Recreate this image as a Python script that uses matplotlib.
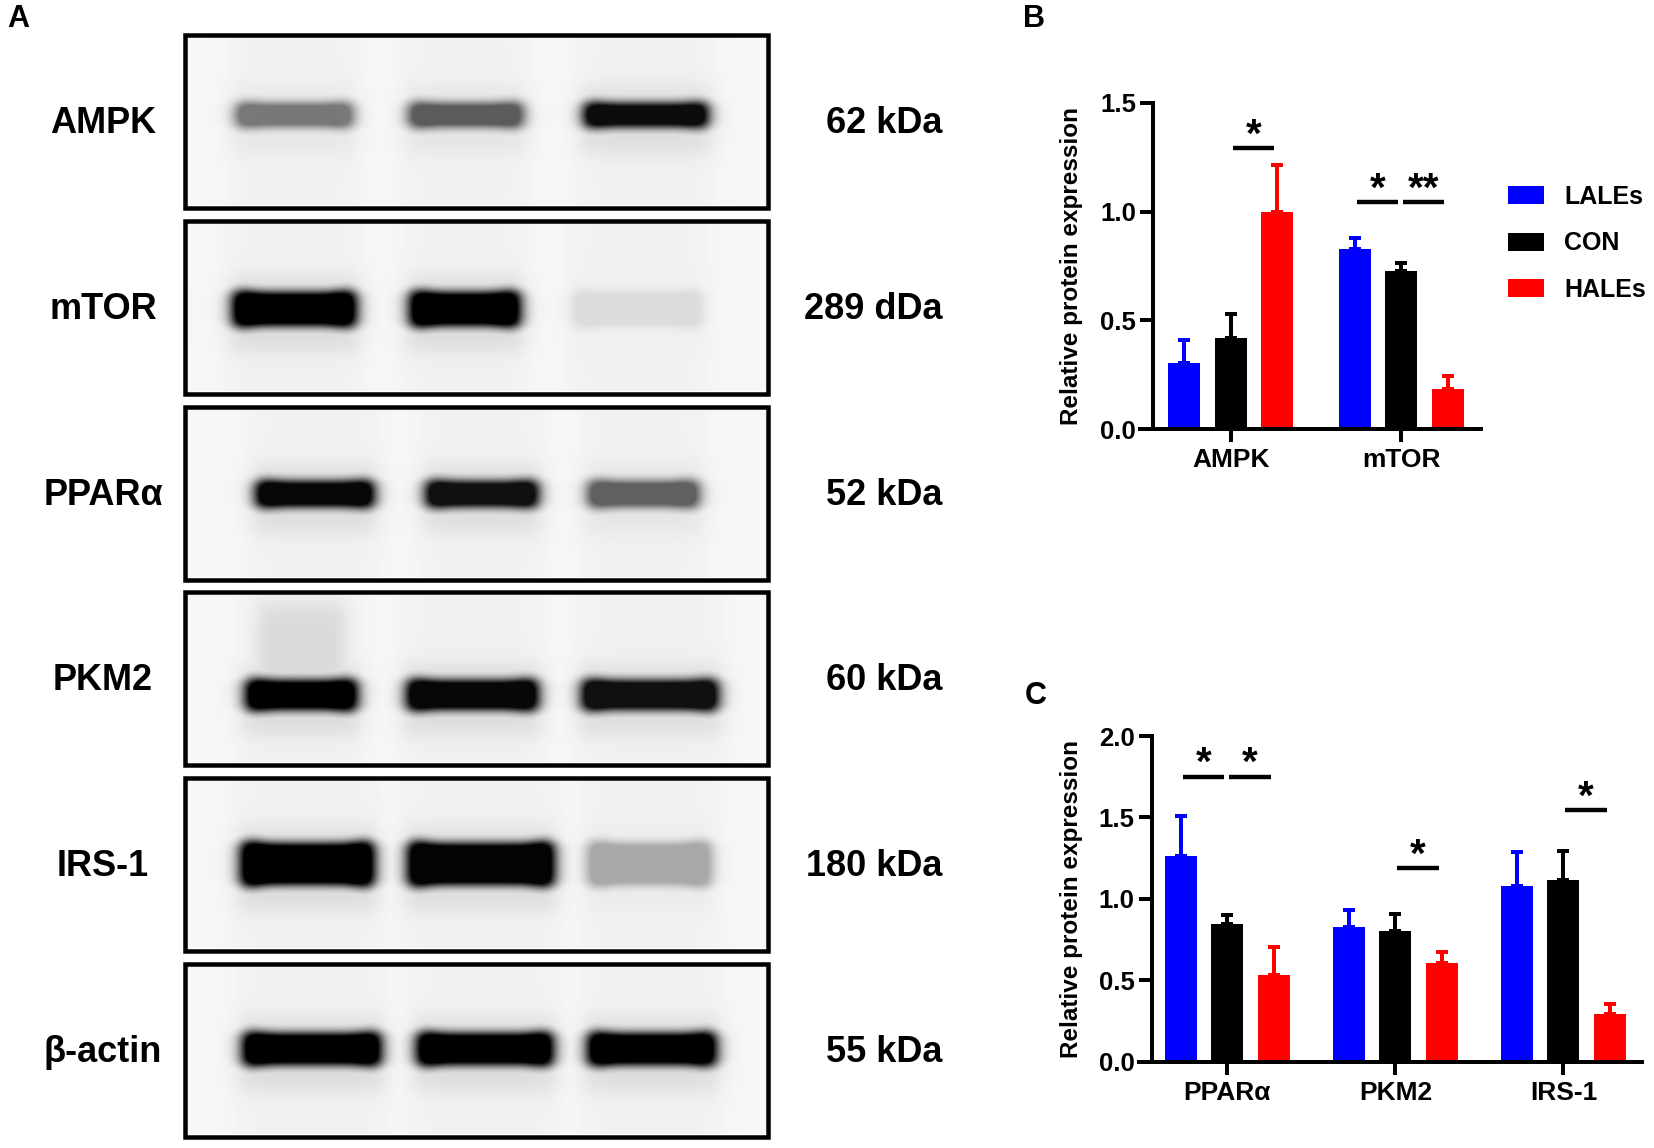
import numpy as np
import matplotlib
matplotlib.use("Agg")
import matplotlib.pyplot as plt
from matplotlib.patches import Rectangle, Patch

plt.rcParams['font.family'] = ['Liberation Sans', 'DejaVu Sans']
plt.rcParams['font.weight'] = 'bold'

# ---------------- data ----------------
groups = ["LALEs", "CON", "HALEs"]
colors = ["#0000FF", "#000000", "#FF0000"]

b_categories = ["AMPK", "mTOR"]
b_means = {"LALEs": [0.306, 0.828], "CON": [0.418, 0.725], "HALEs": [0.997, 0.184]}
b_tops = {"LALEs": [0.410, 0.877], "CON": [0.528, 0.763], "HALEs": [1.213, 0.246]}
# significance: (category index, group i, group j, height, label)
b_sig = [(0, 1, 2, 1.293, "*"), (1, 0, 1, 1.043, "*"), (1, 1, 2, 1.043, "**")]

c_categories = ["PPARα", "PKM2", "IRS-1"]
c_means = {"LALEs": [1.261, 0.825, 1.076], "CON": [0.846, 0.801, 1.113], "HALEs": [0.534, 0.606, 0.292]}
c_tops = {"LALEs": [1.509, 0.932, 1.290], "CON": [0.901, 0.908, 1.296], "HALEs": [0.702, 0.676, 0.353]}
c_sig = [(0, 0, 1, 1.751, "*"), (0, 1, 2, 1.751, "*"), (1, 1, 2, 1.187, "*"), (2, 1, 2, 1.546, "*")]

blot_names = ["AMPK", "mTOR", "PPARα", "PKM2", "IRS-1", "β-actin"]
blot_sizes = ["62 kDa", "289 dDa", "52 kDa", "60 kDa", "180 kDa", "55 kDa"]
# band darkness per lane
blot_intensity = [[0.50, 0.62, 0.95], [1.0, 1.0, 0.09], [0.97, 0.93, 0.60],
                  [1.0, 0.97, 0.93], [1.0, 0.98, 0.30], [1.0, 1.0, 1.0]]

# ---------------- figure ----------------
W, H = 1654, 1148
fig = plt.figure(figsize=(W / 100, H / 100), dpi=100)
px = 72 / 100.0  # points per pixel

ax0 = fig.add_axes([0, 0, 1, 1])
ax0.set_xlim(0, W)
ax0.set_ylim(H, 0)
ax0.axis("off")

# blot layout (pixels)
box_x0, box_x1 = 183, 770
box_tops = [33, 219, 405, 590, 776, 962]
box_h = 177
band_lanes = [
    [(235, 352), (408, 522), (583, 707)],
    [(232, 355), (409, 519), (572, 701)],
    [(255, 373), (425, 537), (587, 698)],
    [(245, 356), (406, 537), (581, 717)],
    [(240, 373), (407, 553), (587, 710)],
    [(242, 380), (416, 552), (587, 715)],
]
band_yc = [115, 309, 494, 695, 864, 1049]
band_hh = [11, 16, 12, 14, 20, 15]


def smooth_rect(v, a, b, s):
    return 0.5 * (np.tanh((v - a) / s) - np.tanh((v - b) / s))


bw = 4.5
for r in range(6):
    top = box_tops[r]
    bot = top + box_h
    xl, xr = box_x0 + bw, box_x1 - bw
    yt, yb = top + bw, bot - bw
    xs = np.arange(int(xl), int(xr)) + 0.5
    ys = np.arange(int(yt), int(yb)) + 0.5
    X, Y = np.meshgrid(xs, ys)
    bg = np.full(X.shape, 0.965)
    dark = np.zeros(X.shape)
    for k, (a, b) in enumerate(band_lanes[r]):
        bg -= 0.02 * smooth_rect(X, a - 5, b + 5, 10)
        inten = blot_intensity[r][k]
        yc = band_yc[r]
        hh = band_hh[r]
        endw = 1 + 0.12 * (np.exp(-((X - a - 8) / 16) ** 2) + np.exp(-((X - b + 8) / 16) ** 2))
        prof = smooth_rect(X, a, b, 9) * smooth_rect(Y, yc - hh * endw, yc + hh * endw, 6.5)
        d = inten * np.clip(1.5 * prof, 0, 1)
        dark = np.maximum(dark, d)
        halo = 0.09 * inten * smooth_rect(X, a - 4, b + 4, 12) * smooth_rect(Y, yc - hh - 16, yc + hh + 26, 12)
        dark = np.maximum(dark, halo)
    if r == 3:
        a, b = band_lanes[3][0]
        smear = 0.10 * smooth_rect(X, a + 12, b - 12, 9) * smooth_rect(Y, top + 14, band_yc[3], 14)
        dark = np.maximum(dark, smear)
    img = bg * (1 - dark)
    ax0.imshow(img, cmap="gray", vmin=0, vmax=1, extent=(xl, xr, yb, yt),
               origin="upper", interpolation="bilinear", zorder=1)
    ax0.add_patch(Rectangle((box_x0 + bw / 2, top + bw / 2), box_x1 - box_x0 - bw, box_h - bw,
                            fill=False, lw=bw * px, edgecolor="black", zorder=3))
    yc_box = top + box_h / 2
    ax0.text(103, yc_box + 2, blot_names[r], ha="center", va="center", fontsize=26, fontweight="bold")
    ax0.text(942, yc_box + 2, blot_sizes[r], ha="right", va="center", fontsize=26, fontweight="bold")

ax0.set_xlim(0, W)
ax0.set_ylim(H, 0)
ax0.set_aspect("auto")

ax0.text(7, 4, "A", ha="left", va="top", fontsize=22, fontweight="bold")
ax0.text(1023, 4, "B", ha="left", va="top", fontsize=22, fontweight="bold")
ax0.text(1025, 681, "C", ha="left", va="top", fontsize=22, fontweight="bold")


def bar_panel(rect_px, xlim, ylim, spacing, cats, means, tops, sigs, yticks):
    l, r_, t, b = rect_px
    ax = fig.add_axes([l / W, 1 - b / H, (r_ - l) / W, (b - t) / H])
    bwid = 32 / spacing
    off = 46.5 / spacing
    x = np.arange(len(cats))
    for k, g in enumerate(groups):
        xpos = x + (k - 1) * off
        m = np.array(means[g])
        e = np.array(tops[g]) - m
        ax.bar(xpos, m, width=bwid, color=colors[k], edgecolor="none", zorder=2)
        ax.errorbar(xpos, m, yerr=[np.zeros_like(e), e], fmt="none", ecolor=colors[k],
                    elinewidth=4 * px, capsize=6 * px, capthick=4 * px, zorder=1)
    for (ci, gi, gj, yv, lab) in sigs:
        x1 = ci + (gi - 1) * off + 0.012
        x2 = ci + (gj - 1) * off - 0.02
        ax.plot([x1, x2], [yv, yv], color="black", lw=4.4 * px, solid_capstyle="butt", clip_on=False)
        ax.text((x1 + x2) / 2, yv + 0.004 * (ylim[1] - ylim[0]), lab, ha="center", va="baseline",
                fontsize=29, fontweight="bold", clip_on=False)
    ax.set_xlim(*xlim)
    ax.set_ylim(*ylim)
    ax.set_yticks(yticks)
    ax.set_yticklabels([f"{v:.1f}" for v in yticks])
    ax.set_xticks(x)
    ax.set_xticklabels(cats)
    for s in ["top", "right"]:
        ax.spines[s].set_visible(False)
    for s in ["left", "bottom"]:
        ax.spines[s].set_linewidth(4 * px)
    ax.spines["bottom"].set_bounds(xlim[0] - 13 / spacing, xlim[1])
    ax.tick_params(axis="both", width=4 * px, length=13 * px, direction="out")
    ax.tick_params(axis="y", pad=4 * px, labelsize=18.5)
    ax.tick_params(axis="x", pad=6 * px, labelsize=19)
    for tl in ax.get_xticklabels() + ax.get_yticklabels():
        tl.set_fontweight("bold")
    ax.set_ylabel("Relative protein expression", fontsize=17.5, fontweight="bold")
    ax.yaxis.set_label_coords((1083 - l) / (r_ - l), 0.5)
    ax.patch.set_alpha(0)
    return ax


axB = bar_panel((1153, 1481, 102.7, 429.3), (-0.457, 1.468), (0, 1.5), 170.7,
                b_categories, b_means, b_tops, b_sig, [0, 0.5, 1.0, 1.5])
axC = bar_panel((1151.5, 1642, 736, 1061.7), (-0.452, 2.468), (0, 2.0), 168,
                c_categories, c_means, c_tops, c_sig, [0, 0.5, 1.0, 1.5, 2.0])

leg_handles = [Patch(facecolor=c, edgecolor="none") for c in colors]
fig.legend(leg_handles, groups, loc="upper left", bbox_to_anchor=(1508 / W, 1 - 185 / H),
           frameon=False, borderpad=0, borderaxespad=0, handlelength=36 / 25, handleheight=18 / 25,
           handletextpad=0.8, labelspacing=0.9, prop={"size": 18, "weight": "bold"})

fig.savefig("out.png", dpi=100)
